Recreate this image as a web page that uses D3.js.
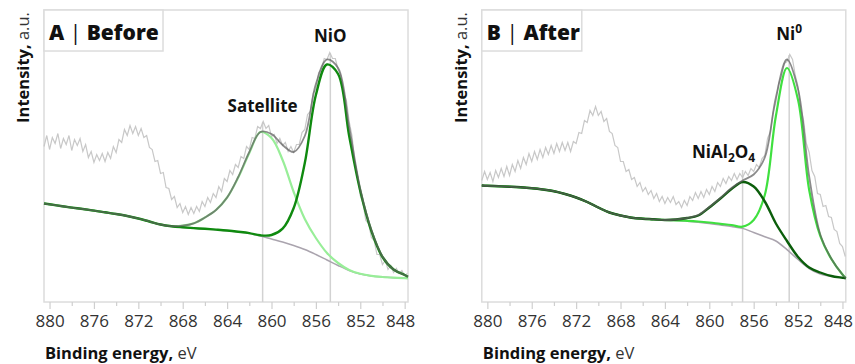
<!DOCTYPE html>
<html><head><meta charset="utf-8">
<script src="https://cdn.jsdelivr.net/npm/d3@7"></script>
<style>
body{margin:0;background:#fff}
svg{display:block}
text{font-family:"Open Sans",Lato,sans-serif}
</style>
</head><body>
<svg id="chart" width="855" height="364"></svg>
<script>
// ---------- data ----------
const energyFit = [880.5,880,879,878,877,876,875,874,873,872,871,870,869,868,867,866,865,864,863,862,861,860,859,858,857,856,855,854,853,852,851,850,849,848,847.7];
const rawStart = 880.5, rawStep = 0.25;

// Panel A (Before)
const rawA = [155,166,152,164,158,168,153,163,157,166,151,162,156,163,150,157,
  144,150,139,147,141,148,140,149,143,155,149,162,159,172,166,
  176,168,175,166,173,164,166,154,152,140,141,128,129,114,113,
  102,105,94,98,89,95,87,94,88,95,90,100,95,104,99,
  108,104,115,110,123,120,131,127,137,134,145,143,155,152,164,
  163,175,173,180,173,176,165,167,158,163,156,159,150,155,149,
  157,157,169,172,187,190,208,213,229,232,243,242,249,243,243,
  232,226,209,201,180,166,141,127,106,98,81,78,64,61,47,
  47,37,41,32,36,29,33,28,31,26,28];
const bgA = [98,97.2,95.5,93.9,92.5,90.9,89.2,87.5,85.5,83,80,77,75,74,73.2,72.5,71.7,70.8,69.5,68,65.5,62.5,59.5,56,52,47,41.5,36,31,27.5,25.5,24.5,23.8,23.3,23.2];
const satelliteA = [98,97.2,95.5,93.9,92.5,90.9,89.2,87.5,85.5,83,80,77,75.3,75.8,78.2,84,91.5,104,124,148.5,169.5,163.5,141.5,109.5,82.5,63.5,48.5,38.5,31.5,27.7,25.6,24.5,23.8,23.3,23.2];
const nioA = [98,97.2,95.5,93.9,92.5,90.9,89.2,87.5,85.5,83,80,77,75.2,74.2,73.4,72.7,71.9,71.0,69.8,68.4,66.2,66.5,72.8,93.5,138.5,206.5,237,227.5,165.5,110.5,70.5,44.5,32,26.5,24.8];
const envelopeA = [98,97.2,95.5,93.9,92.5,90.9,89.2,87.5,85.5,83,80,77,75.3,75.8,78.2,84,91.5,104,124.5,149.5,169.5,167.5,156.5,149.5,165.5,217.5,242,233.5,174.5,112.5,71.5,45,32,26.5,24.8];
const peaksA = ["Satellite","NiO"];
const peakEnergyA = [860.8,854.7];
const peakTopA = [179.5,248.5];

// Panel B (After)
const rawB = [121,130,122,129,120,131,124,133,125,135,126,137,130,141,133,144,
  137,148,140,150,142,152,144,154,147,156,148,158,150,159,151,
  159,150,160,158,169,168,181,179,191,186,195,186,190,180,183,
  170,168,156,154,140,140,130,132,122,124,115,119,110,114,107,
  111,103,108,100,105,98,104,99,105,97,100,94,101,96,105,
  101,109,103,110,104,112,107,115,110,119,115,123,118,125,121,
  128,122,128,124,130,126,133,130,137,134,143,146,163,170,189,
  199,218,225,238,240,247,242,226,215,192,181,158,149,131,125,
  108,107,95,96,85,84,72,70,58,55,45];
const bgB = [116,115.7,115.3,114.8,114.2,113.3,112,110.3,107.5,104,99.5,94,89,86,83.8,82.8,82.2,81.5,81,80.2,79.2,78,76.5,75,73.1,69,64.8,60.5,51.8,42,33,27.5,25.2,23.7,23.2];
const ni0B = [116,115.7,115.3,114.8,114.2,113.3,112,110.3,107.5,104,99.5,94,89,86,83.8,82.8,82.2,81.5,81.2,80.7,80,79,77.7,76.5,74.8,81.5,106.5,185.5,233.5,201.5,111.5,65.5,42.5,27,23.5];
const nial2o4B = [116,115.7,115.3,114.8,114.2,113.3,112,110.3,107.5,104,99.5,94,89,86,83.8,82.8,82.2,81.5,82,83.5,86,94,103,112.5,119.5,115,100,78,60.5,44.5,34,29,25.5,23.8,23.3];
const envelopeB = [116,115.7,115.3,114.8,114.2,113.3,112,110.3,107.5,104,99.5,94,89,86,83.8,82.8,82.2,81.5,82,83.5,86.5,94.5,103.5,113.5,121,127,144,204,242,212,125,67,42.8,27,23.5];
const peaksB = ["NiAl2O4","Ni0"];
const peakEnergyB = [857.0,852.8];
const peakTopB = [131.5,246.5];

const majorTicks = [880,876,872,868,864,860,856,852,848];
const minorTicks = [878,874,870,866,862,858,854,850];
const titles = ["A | Before","B | After"];

// ---------- drawing ----------
const svg = d3.select("#chart");
const x = d3.scaleLinear().domain([880.5,847.7]).range([0,364]);
const y = d3.scaleLinear().domain([0,291.5]).range([301.5,10]);
const line = d3.line().x(d=>x(d[0])).y(d=>y(d[1])).curve(d3.curveCatmullRom.alpha(0.5));
const rawLine = d3.line().x(d=>x(d[0])).y(d=>y(d[1]));

function pairs(es, vs){ return vs.map((v,i)=>[es[i],v]); }
function rawPairs(vs){ return vs.map((v,i)=>[rawStart - rawStep*i, v]); }

function panel(left, cfg){
  const g = svg.append("g").attr("transform",`translate(${left},0)`);
  g.append("rect").attr("x",0).attr("y",10).attr("width",364).attr("height",292)
    .attr("fill","none").attr("stroke","#dcdcdc").attr("stroke-width",1.5);
  const ax = g.append("g").attr("transform","translate(0,302)")
    .call(d3.axisBottom(x).tickValues(majorTicks).tickSize(7).tickPadding(5.5).tickFormat(d3.format("d")));
  ax.select(".domain").remove();
  ax.selectAll(".tick line").attr("stroke","#cfcfcf").attr("stroke-width",1.2);
  ax.selectAll(".tick text").attr("fill","#333").style("font-size","17px").style("font-family","'Open Sans', sans-serif")
    .filter(d=>d===848).attr("text-anchor","end").attr("dx",10);
  const axm = g.append("g").attr("transform","translate(0,302)")
    .call(d3.axisBottom(x).tickValues(minorTicks).tickSize(4).tickFormat(""));
  axm.select(".domain").remove();
  axm.selectAll(".tick line").attr("stroke","#cfcfcf").attr("stroke-width",1.2);

  cfg.peakE.forEach((e,i)=>{
    g.append("line").attr("x1",x(e)).attr("x2",x(e)).attr("y1",y(cfg.peakTop[i])).attr("y2",302)
      .attr("stroke","#d2d2d2").attr("stroke-width",1.5);
  });
  g.append("path").datum(rawPairs(cfg.raw)).attr("d",rawLine)
    .attr("fill","none").attr("stroke","#c8c8c8").attr("stroke-width",1.2);
  g.append("path").datum(pairs(energyFit,cfg.bg)).attr("d",line)
    .attr("fill","none").attr("stroke","#aaa4ae").attr("stroke-width",1.5);
  g.append("path").datum(pairs(energyFit,cfg.c1)).attr("d",line)
    .attr("fill","none").attr("stroke",cfg.c1Color).attr("stroke-width",2.2);
  g.append("path").datum(pairs(energyFit,cfg.c2)).attr("d",line)
    .attr("fill","none").attr("stroke",cfg.c2Color).attr("stroke-width",2.4);
  g.append("path").datum(pairs(energyFit,cfg.env)).attr("d",line)
    .attr("fill","none").attr("stroke","#5e5e5e").attr("stroke-opacity",0.72).attr("stroke-width",1.8);

  g.append("rect").attr("x",0).attr("y",10).attr("width",cfg.boxW).attr("height",41)
    .attr("fill","#fff").attr("stroke","#dcdcdc").attr("stroke-width",1.5);
  const t = g.append("text").attr("x",5).attr("y",39.5).style("font-size","21px").style("font-weight","800").attr("fill","#111");
  const parts = cfg.title.split(" | ");
  t.append("tspan").text(parts[0]);
  t.append("tspan").style("font-weight","400").text(" | ");
  t.append("tspan").text(parts[1]);

  const yt = g.append("text").attr("transform",`translate(-15,67.5) rotate(-90)`).attr("text-anchor","middle")
    .style("font-size","16.5px").attr("fill","#111");
  yt.append("tspan").style("font-weight","700").text("Intensity,");
  yt.append("tspan").style("font-weight","400").attr("fill","#333").text(" a.u.");
  const xt = g.append("text").attr("x",1).attr("y",359).style("font-size","16.5px").attr("fill","#111");
  xt.append("tspan").style("font-weight","700").text("Binding energy,");
  xt.append("tspan").style("font-weight","400").attr("fill","#333").text(" eV");

  cfg.labels(g);
}

panel(44,{
  title:titles[0], boxW:119, raw:rawA, bg:bgA, c1:satelliteA, c1Color:"#98ee98",
  c2:nioA, c2Color:"#0f8a0f", env:envelopeA, peakE:peakEnergyA, peakTop:peakTopA,
  labels:(g)=>{
    g.append("text").attr("x",x(peakEnergyA[0])).attr("y",111.5).attr("text-anchor","middle")
      .style("font-size","17px").style("font-weight","700").attr("fill","#111").text(peaksA[0]);
    g.append("text").attr("x",x(peakEnergyA[1])).attr("y",41.5).attr("text-anchor","middle")
      .style("font-size","17px").style("font-weight","700").attr("fill","#111").text(peaksA[1]);
  }
});

panel(481.8,{
  title:titles[1], boxW:100, raw:rawB, bg:bgB, c1:ni0B, c1Color:"#3fe03f",
  c2:nial2o4B, c2Color:"#0b5e0b", env:envelopeB, peakE:peakEnergyB, peakTop:peakTopB,
  labels:(g)=>{
    const t1 = g.append("text").attr("x",x(peakEnergyB[0])-19).attr("y",158).attr("text-anchor","middle")
      .style("font-size","17px").style("font-weight","700").attr("fill","#111");
    t1.append("tspan").text("NiAl");
    t1.append("tspan").attr("dy",4).style("font-size","12px").text("2");
    t1.append("tspan").attr("dy",-4).text("O");
    t1.append("tspan").attr("dy",4).style("font-size","12px").text("4");
    const t2 = g.append("text").attr("x",x(peakEnergyB[1])).attr("y",40).attr("text-anchor","middle")
      .style("font-size","17px").style("font-weight","700").attr("fill","#111");
    t2.append("tspan").text("Ni");
    t2.append("tspan").attr("dy",-7).style("font-size","12px").text("0");
  }
});
</script>
</body></html>
